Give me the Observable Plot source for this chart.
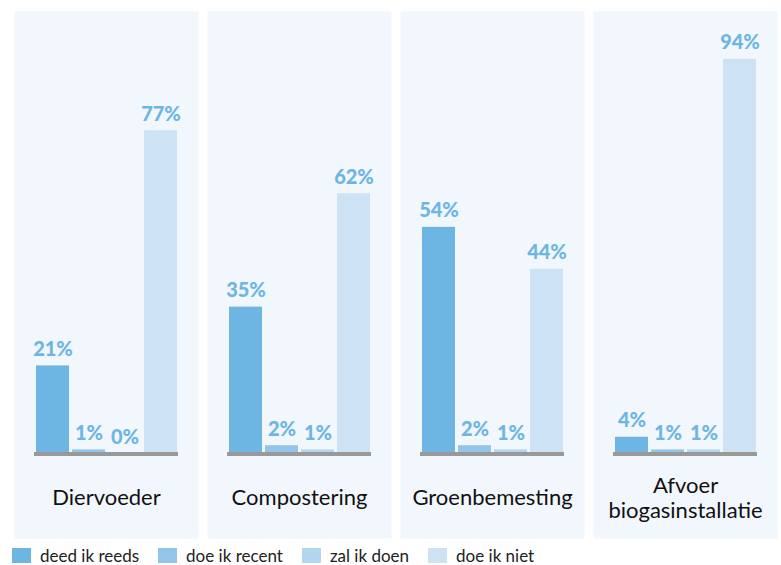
<!DOCTYPE html>
<html>
<head>
<meta charset="utf-8">
<script src="https://cdn.jsdelivr.net/npm/d3@7"></script>
<script src="https://cdn.jsdelivr.net/npm/@observablehq/plot@0.6"></script>
<style>
  body { margin: 0; background: #fff; font-family: Lato, "Open Sans", sans-serif; }
  #chart svg { display: block; }
  #legend { margin: 4px 0 0 12px; }
  #legend .lg-swatches { min-height: 16px !important; margin: 0 !important; font-size: 17px !important; line-height: 1 !important; color: #222 !important; font-family: Lato, sans-serif !important; }
  #legend .lg-swatch { margin-right: 19px !important; font-size: 17px !important; line-height: 1 !important; }
  #legend .lg-swatch > svg { margin-right: 9px !important; }
</style>
</head>
<body>
<div id="chart"></div>
<div id="legend"></div>
<script>
const categories = ["Diervoeder", "Compostering", "Groenbemesting", "Afvoer\nbiogasinstallatie"];
const series = ["deed ik reeds", "doe ik recent", "zal ik doen", "doe ik niet"];
const deedIkReeds = [21, 35, 54, 4];
const doeIkRecent = [1, 2, 2, 1];
const zalIkDoen = [0, 1, 1, 1];
const doeIkNiet = [77, 62, 44, 94];
const colors = ["#6db6e3", "#92c5ea", "#b3d6ef", "#cde3f5"];

const seriesValues = [deedIkReeds, doeIkRecent, zalIkDoen, doeIkNiet];
const data = categories.flatMap((c, i) =>
  seriesValues.map((arr, j) => ({category: c, series: series[j], value: arr[i]}))
);

const chart = Plot.plot({
  width: 781,
  height: 543,
  marginTop: 11,
  marginBottom: 5,
  marginLeft: 12,
  marginRight: 3,
  style: {fontFamily: "Lato, 'Open Sans', sans-serif", background: "#fff"},
  fx: {domain: categories, paddingInner: 0.047, paddingOuter: 0, axis: null},
  x: {domain: series, paddingInner: 0.089, paddingOuter: 0, insetLeft: 20, insetRight: 20, axis: null},
  y: {domain: [-20.1, 105.4], axis: null},
  color: {domain: series, range: colors},
  marks: [
    Plot.frame({fill: "#f1f7fc"}),
    Plot.barY(data, {fx: "category", x: "series", y1: 0, y2: "value", fill: "series"}),
    Plot.ruleY([0], {insetLeft: 20, insetRight: 20, stroke: "#999", strokeWidth: 4}),
    Plot.text(data, {
      fx: "category", x: "series", y: "value",
      text: d => d.value + "%",
      lineAnchor: "bottom", dy: -10,
      fill: "#6db6e3", fontWeight: 900, fontSize: 20
    }),
    Plot.text(categories, {
      fx: d => d, text: d => d,
      frameAnchor: "bottom", dy: -41, lineAnchor: "middle", lineHeight: 1.12,
      fontSize: 22, fill: "#111"
    })
  ]
});
document.getElementById("chart").appendChild(chart);

const legend = Plot.legend({
  color: {domain: series, range: colors},
  swatchWidth: 19,
  swatchHeight: 15,
  className: "lg"
});
document.getElementById("legend").appendChild(legend);
</script>
</body>
</html>
